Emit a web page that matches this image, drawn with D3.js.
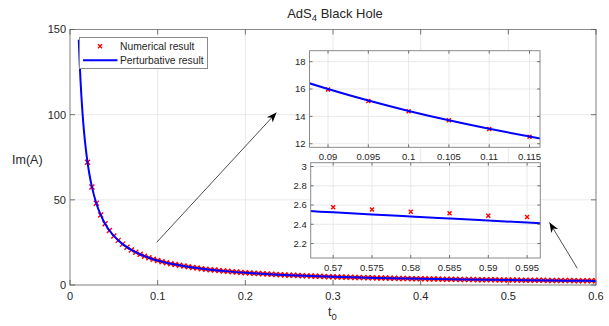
<!DOCTYPE html>
<html lang="en">
<head>
<meta charset="UTF-8">
<title>AdS4 Black Hole</title>
<script src="https://cdn.jsdelivr.net/npm/d3@7"></script>
<style>
body { margin: 0; background: #fff; }
text { font-family: "Liberation Sans", Arial, sans-serif; fill: #262626; }
</style>
</head>
<body>
<div id="output"></div>
<script>

// numerical result: t0 and Im(A)
var tNum = [0.020,0.025,0.030,0.035,0.040,0.045,0.050,0.055,0.060,0.065,0.070,0.075,0.080,0.085,0.090,0.095,
    0.100,0.105,0.110,0.115,0.120,0.125,0.130,0.135,0.140,0.145,0.150,0.155,0.160,0.165,0.170,0.175,
    0.180,0.185,0.190,0.195,0.200,0.205,0.210,0.215,0.220,0.225,0.230,0.235,0.240,0.245,0.250,0.255,
    0.260,0.265,0.270,0.275,0.280,0.285,0.290,0.295,0.300,0.305,0.310,0.315,0.320,0.325,0.330,0.335,
    0.340,0.345,0.350,0.355,0.360,0.365,0.370,0.375,0.380,0.385,0.390,0.395,0.400,0.405,0.410,0.415,
    0.420,0.425,0.430,0.435,0.440,0.445,0.450,0.455,0.460,0.465,0.470,0.475,0.480,0.485,0.490,0.495,
    0.500,0.505,0.510,0.515,0.520,0.525,0.530,0.535,0.540,0.545,0.550,0.555,0.560,0.565,0.570,0.575,
    0.580,0.585,0.590,0.595,0.600];
var numY = [72.0,57.6,48.0,41.1,36.0,32.0,28.8,26.2,24.0,22.15,20.57,19.20,18.00,16.94,15.96,15.12,
    14.37,13.71,13.07,12.51,12.00,11.53,11.09,10.68,10.30,9.94,9.61,9.30,9.01,8.74,8.48,8.24,
    8.01,7.79,7.59,7.39,7.21,7.04,6.87,6.72,6.57,6.42,6.28,6.15,6.02,5.90,5.78,5.67,
    5.56,5.46,5.36,5.26,5.17,5.08,4.99,4.91,4.83,4.75,4.68,4.60,4.53,4.46,4.40,4.33,
    4.27,4.21,4.15,4.09,4.04,3.98,3.93,3.88,3.83,3.78,3.73,3.69,3.64,3.60,3.56,3.51,
    3.47,3.43,3.39,3.36,3.32,3.28,3.25,3.21,3.18,3.14,3.11,3.08,3.05,3.02,2.99,2.96,
    2.93,2.90,2.87,2.85,2.82,2.79,2.77,2.74,2.72,2.69,2.67,2.65,2.62,2.598,2.576,2.555,
    2.530,2.514,2.490,2.476,2.455];

// perturbative result
var tPert = [0.010,0.011,0.012,0.013,0.014,0.015,0.016,0.017,0.018,0.019,0.020,0.022,0.025,0.030,0.035,0.040,
    0.045,0.050,0.060,0.070,0.080,0.085,0.090,0.095,0.100,0.105,0.110,0.115,0.120,0.140,0.160,0.180,
    0.200,0.250,0.300,0.350,0.400,0.450,0.500,0.550,0.565,0.570,0.575,0.580,0.585,0.590,0.595,0.600];
var pertY = [144.0,130.9,120.0,110.8,102.9,96.0,90.0,84.7,80.0,75.8,72.0,65.45,57.6,48.0,41.14,36.0,
    32.0,28.8,24.0,20.57,18.0,16.941,16.000,15.158,14.400,13.714,13.091,12.522,12.000,10.286,9.000,8.000,
    7.200,5.760,4.800,4.114,3.600,3.200,2.880,2.618,2.546,2.524,2.502,2.481,2.460,2.439,2.418,2.398];

var xTicks = [0, 0.1, 0.2, 0.3, 0.4, 0.5, 0.6];
var yTicks = [0, 50, 100, 150];
var inset1XTicks = [0.09, 0.095, 0.1, 0.105, 0.11, 0.115];
var inset1YTicks = [12, 14, 16, 18];
var inset2XTicks = [0.57, 0.575, 0.58, 0.585, 0.59, 0.595];
var inset2YTicks = [2.2, 2.4, 2.6, 2.8, 3];

var w = 609, h = 326;

var svg = d3.select("#output")
    .append("svg")
    .attr("width", w)
    .attr("height", h)
    .style("background-color", "#ffffff");

var defs = svg.append("defs");
defs.append("marker")
    .attr("id", "head")
    .attr("viewBox", "0 0 10 10")
    .attr("refX", 10).attr("refY", 5)
    .attr("markerWidth", 10).attr("markerHeight", 10)
    .attr("markerUnits", "userSpaceOnUse")
    .attr("orient", "auto")
    .append("path")
    .attr("d", "M0,1 L10,5 L0,9 L3,5 Z")
    .attr("fill", "#000");

function crossPath(px, py, s) {
    return "M" + (px - s) + "," + (py - s) + "L" + (px + s) + "," + (py + s) +
        "M" + (px - s) + "," + (py + s) + "L" + (px + s) + "," + (py - s);
}

// draws one MATLAB style axes box with grid, inward ticks on all sides, data
function drawPanel(opt) {
    var x = d3.scaleLinear().domain(opt.xDomain).range([opt.left, opt.right]);
    var y = d3.scaleLinear().domain(opt.yDomain).range([opt.bottom, opt.top]);
    var g = svg.append("g");
    var tl = opt.tickLen;

    g.append("rect")
        .attr("x", opt.left).attr("y", opt.top)
        .attr("width", opt.right - opt.left).attr("height", opt.bottom - opt.top)
        .attr("fill", "#fff");

    // grid
    g.selectAll(".gx").data(opt.xTicks).enter().append("line")
        .attr("x1", function(d){ return x(d); }).attr("x2", function(d){ return x(d); })
        .attr("y1", opt.top).attr("y2", opt.bottom)
        .attr("stroke", "#e3e3e3").attr("stroke-width", 0.8);
    g.selectAll(".gy").data(opt.yTicks).enter().append("line")
        .attr("y1", function(d){ return y(d); }).attr("y2", function(d){ return y(d); })
        .attr("x1", opt.left).attr("x2", opt.right)
        .attr("stroke", "#e3e3e3").attr("stroke-width", 0.8);

    var clipId = "clip" + opt.id;
    defs.append("clipPath").attr("id", clipId).append("rect")
        .attr("x", opt.left).attr("y", opt.top)
        .attr("width", opt.right - opt.left).attr("height", opt.bottom - opt.top);

    var plot = g.append("g").attr("clip-path", "url(#" + clipId + ")");

    var line = d3.line()
        .x(function(d){ return x(d[0]); })
        .y(function(d){ return y(d[1]); })
        .curve(d3.curveMonotoneX);

    plot.selectAll(".mk").data(d3.zip(tNum, numY)).enter().append("path")
        .attr("d", function(d){ return crossPath(x(d[0]), y(d[1]), opt.markSize); })
        .attr("stroke", "#ff0000").attr("stroke-width", 1.4).attr("fill", "none");

    plot.append("path")
        .datum(d3.zip(tPert, pertY))
        .attr("d", line)
        .attr("fill", "none")
        .attr("stroke", "#0000ff")
        .attr("stroke-width", 2);

    // box
    g.append("rect")
        .attr("x", opt.left).attr("y", opt.top)
        .attr("width", opt.right - opt.left).attr("height", opt.bottom - opt.top)
        .attr("fill", "none").attr("stroke", "#8a8a8a").attr("stroke-width", 1);

    // ticks on all four sides
    opt.xTicks.forEach(function(t){
        g.append("line").attr("x1", x(t)).attr("x2", x(t)).attr("y1", opt.bottom).attr("y2", opt.bottom - tl)
            .attr("stroke", "#555").attr("stroke-width", 0.8);
        g.append("line").attr("x1", x(t)).attr("x2", x(t)).attr("y1", opt.top).attr("y2", opt.top + tl)
            .attr("stroke", "#555").attr("stroke-width", 0.8);
        g.append("text").attr("x", x(t)).attr("y", opt.bottom + opt.xLabelDy)
            .attr("text-anchor", "middle").attr("font-size", opt.fontSize)
            .text(opt.fmt(t));
    });
    opt.yTicks.forEach(function(t){
        g.append("line").attr("y1", y(t)).attr("y2", y(t)).attr("x1", opt.left).attr("x2", opt.left + tl)
            .attr("stroke", "#555").attr("stroke-width", 0.8);
        g.append("line").attr("y1", y(t)).attr("y2", y(t)).attr("x1", opt.right).attr("x2", opt.right - tl)
            .attr("stroke", "#555").attr("stroke-width", 0.8);
        g.append("text").attr("x", opt.left - 4).attr("y", y(t)).attr("dy", "0.35em")
            .attr("text-anchor", "end").attr("font-size", opt.fontSize)
            .text(opt.fmt(t));
    });
    return g;
}

var fmtG = function(v){ return String(+v.toFixed(4)); };

drawPanel({
    id: "main", left: 70, right: 596, top: 29.5, bottom: 285,
    xDomain: [0, 0.6], yDomain: [0, 150],
    xTicks: xTicks, yTicks: yTicks, fmt: fmtG,
    fontSize: "11px", xLabelDy: 15, tickLen: 5, markSize: 2.5
});

// axis labels and title
svg.append("text").attr("x", 335).attr("y", 18).attr("text-anchor", "middle")
    .attr("font-size", "13px")
    .html('AdS<tspan dy="3" font-size="9.5px">4</tspan><tspan dy="-3"> Black Hole</tspan>');
svg.append("text").attr("x", 12).attr("y", 163.5).attr("font-size", "12.5px").text("Im(A)");
svg.append("text").attr("x", 328).attr("y", 316).attr("font-size", "12.5px")
    .html('t<tspan dy="4" font-size="9.5px">0</tspan>');

// legend
var lg = svg.append("g");
lg.append("rect").attr("x", 79.5).attr("y", 37.5).attr("width", 128).attr("height", 31)
    .attr("fill", "#fff").attr("stroke", "#8a8a8a").attr("stroke-width", 1);
lg.append("path").attr("d", crossPath(100, 46.3, 2))
    .attr("stroke", "#ff0000").attr("stroke-width", 1.4);
lg.append("line").attr("x1", 83).attr("x2", 117.5).attr("y1", 60.3).attr("y2", 60.3)
    .attr("stroke", "#0000ff").attr("stroke-width", 2);
lg.append("text").attr("x", 120).attr("y", 50).attr("font-size", "10.3px").text("Numerical result");
lg.append("text").attr("x", 120).attr("y", 64).attr("font-size", "10.3px").text("Perturbative result");

// arrows
svg.append("line").attr("x1", 156.7).attr("y1", 242.3).attr("x2", 276.5).attr("y2", 112.5)
    .attr("stroke", "#000").attr("stroke-width", 0.7).attr("marker-end", "url(#head)");
svg.append("line").attr("x1", 577.3).attr("y1", 268.3).attr("x2", 549.5).attr("y2", 222.5)
    .attr("stroke", "#000").attr("stroke-width", 0.7).attr("marker-end", "url(#head)");

// insets
drawPanel({
    id: "in1", left: 309.5, right: 540, top: 50.7, bottom: 147.3,
    xDomain: [0.0877, 0.1163], yDomain: [11.74, 18.8],
    xTicks: inset1XTicks, yTicks: inset1YTicks, fmt: fmtG,
    fontSize: "9.5px", xLabelDy: 12.5, tickLen: 3, markSize: 2
});
drawPanel({
    id: "in2", left: 310.7, right: 540.3, top: 162.7, bottom: 258,
    xDomain: [0.5671, 0.5967], yDomain: [2.05, 3.04],
    xTicks: inset2XTicks, yTicks: inset2YTicks, fmt: fmtG,
    fontSize: "9.5px", xLabelDy: 12.5, tickLen: 3, markSize: 2
});

</script>
</body>
</html>
